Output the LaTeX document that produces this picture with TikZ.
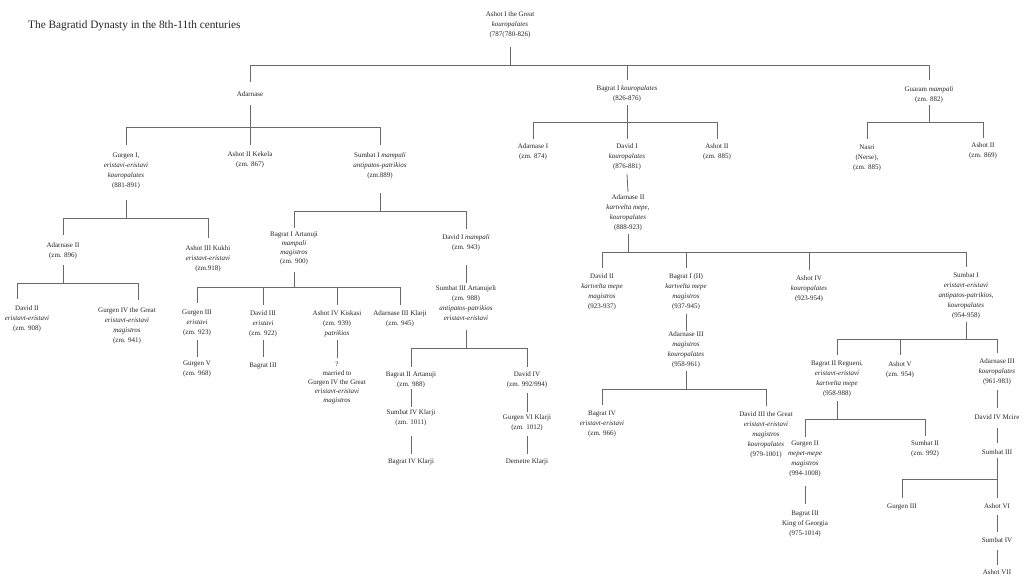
\documentclass[tikz,border=0pt]{standalone}
\usepackage{fontspec}
\setmainfont{Liberation Serif}
\definecolor{txt}{HTML}{262626}
\definecolor{lin}{HTML}{6A6A6A}
\tikzset{
  person/.style={font=\fontsize{7}{10}\selectfont, align=center, inner sep=0pt, anchor=north, text=txt},
  tight/.style={font=\fontsize{7}{9}\selectfont},
  ln/.style={draw=lin, line width=0.8pt},
}
\newcommand\pn[5][]{\node[person,#1] (#2) at (#3,#4-2.5) {#5};}
\newcommand\vl[4]{\draw[ln] (#1 |- 0,#2) -- (#3 |- 0,#4);}
\newcommand\fk[4]{%
  \draw[ln] (#1 |- 0,#2) -- (#1 |- 0,#3);
  \foreach \c/\b in {#4}{\draw[ln] (#1 |- 0,#3) -| (\c |- 0,\b);}%
}
\begin{document}
\begin{tikzpicture}[x=1pt,y=-1pt]
\useasboundingbox (0,0) rectangle (1024,576);
\fill[white] (0,0) rectangle (1024,576);
\node[anchor=base west, font=\fontsize{11.3}{13}\selectfont, inner sep=0pt, text=txt] (title) at (28,28) {The Bagratid Dynasty in the 8th-11th centuries};

\pn{root}{510}{14}{Ashot I the Great\\\textit{kouropalates}\\(787(780-826)}
\pn{adarnase}{250}{94}{Adarnase}
\pn{bagratI}{627}{88}{Bagrat I \textit{kouropalates}\\(826-876)}
\pn{guaram}{929}{89}{Guaram \textit{mampali}\\(zm. 882)}

\pn{gurgenI}{126}{155}{Gurgen I,\\\textit{eristavi-eristavi}\\\textit{kouropalates}\\(881-891)}
\pn{ashotIIK}{250}{154}{Ashot II Kekela\\(zm. 867)}
\pn{sumbatI}{380}{155}{Sumbat I \textit{mampali}\\\textit{antipatos-patrikios}\\(zm.889)}
\pn{adarnaseII}{63}{245}{Adarnase II\\(zm. 896)}
\pn{ashotIIIK}{208}{248}{Ashot III Kukhi\\\textit{eristavt-eristavi}\\(zm.918)}
\pn{davidII}{27}{308}{David II\\\textit{eristavt-eristavi}\\(zm. 908)}
\pn{gurgenIV}{127}{310}{Gurgen IV the Great\\\textit{eristavt-eristavi}\\\textit{magistros}\\(zm. 941)}
\coordinate (d2c) at (17,300);
\coordinate (g4c) at (138,300);
\pn[tight]{bagratIA}{294}{234}{Bagrat I Artanuji\\\textit{mampali}\\\textit{magistros}\\(zm. 900)}
\pn{davidIm}{466}{237}{David I \textit{mampali}\\(zm. 943)}
\pn{gurgenIII}{197}{312}{Gurgen III\\\textit{eristavi}\\(zm. 923)}
\pn{davidIII}{263}{313}{David III\\\textit{eristavi}\\(zm. 922)}
\pn{ashotIVK}{337}{313}{Ashot IV Kiskasi\\(zm. 939)\\\textit{patrikios}}
\pn{adarnaseIIIK}{400}{313}{Adarnase III Klarji\\(zm. 945)}
\pn{gurgenV}{197}{363}{Gurgen V\\(zm. 968)}
\pn{bagratIII}{263}{365}{Bagrat III}
\pn[tight]{married}{337}{364}{?\\married to\\Gurgen IV the Great\\\textit{eristavt-eristavi}\\\textit{magistros}}
\pn{sumbatIIIA}{466}{288}{Sumbat III Artanujeli\\(zm. 988)\\\textit{antipatos-patrikios}\\\textit{eristavt-eristavi}}
\pn{bagratIIA}{411}{374}{Bagrat II Artanuji\\(zm. 988)}
\pn{davidIV}{527}{374}{David IV\\(zm. 992/994)}
\pn{sumbatIVK}{411}{412}{Sumbat IV Klarji\\(zm. 1011)}
\pn{bagratIVK}{411}{461}{Bagrat IV Klarji}
\pn{gurgenVIK}{527}{417}{Gurgen VI Klarji\\(zm. 1012)}
\pn{demetre}{527}{461}{Demetre Klarji}

\pn{adarnaseI}{533}{146}{Adarnase I\\(zm. 874)}
\pn{davidI}{627}{146}{David I\\\textit{kouropalates}\\(876-881)}
\pn{ashotII}{717}{146}{Ashot II\\(zm. 885)}
\pn{nasri}{867}{147}{Nasri\\(Nerse),\\(zm. 885)}
\pn{ashotIIg}{983}{145}{Ashot II\\(zm. 869)}
\pn{adarnaseIIk}{628}{197}{Adarnase II\\\textit{kartvelta mepe},\\\textit{kouropalates}\\(888-923)}
\pn{davidIIk}{602}{276}{David II\\\textit{kartvelta mepe}\\\textit{magistros}\\(923-937)}
\pn{bagratIII2}{686}{276}{Bagrat I (II)\\\textit{kartvelta mepe}\\\textit{magistros}\\(937-945)}
\pn{ashotIV}{809}{278}{Ashot IV\\\textit{kouropalates}\\(923-954)}
\pn{sumbatIk}{966}{275}{Sumbat I\\\textit{eristavt-eristavi}\\\textit{antipatos-patrikios},\\\textit{kouropalates}\\(954-958)}
\pn{adarnaseIIIm}{686}{334}{Adarnase III\\\textit{magistros}\\\textit{kouropalates}\\(958-961)}
\pn{bagratIV}{602}{413}{Bagrat IV\\\textit{eristavt-eristavi}\\(zm. 966)}
\pn{davidIIIG}{766}{414}{David III the Great\\\textit{eristavt-eristavi}\\\textit{magistros}\\\textit{kouropalates}\\(979-1001)}
\pn{bagratIIR}{837}{363}{Bagrat II Regueni,\\\textit{eristavt-eristavi}\\\textit{kartvelta mepe}\\(958-988)}
\pn{ashotV}{900}{364}{Ashot V\\(zm. 954)}
\pn{adarnaseIIIk}{997}{361}{Adarnase III\\\textit{kouropalates}\\(961-983)}
\pn{gurgenII}{805}{443}{Gurgen II\\\textit{mepet-mepe}\\\textit{magistros}\\(994-1008)}
\pn{sumbatII}{925}{443}{Sumbat II\\(zm. 992)}
\pn{bagratIIIk}{805}{513}{Bagrat III\\King of Georgia\\(975-1014)}
\pn{davidIVM}{997}{417}{David IV Mcire}
\pn{sumbatIIIx}{997}{452}{Sumbat III}
\pn{gurgenIIIx}{902}{506}{Gurgen III}
\pn{ashotVI}{997}{506}{Ashot VI}
\pn{sumbatIVx}{997}{540}{Sumbat IV}
\pn{ashotVII}{997}{572}{Ashot VII}

% connectors
\fk{root}{47}{65}{adarnase/82,bagratI/80,guaram/80}
\fk{adarnase}{105}{127}{gurgenI/145,ashotIIK/145,sumbatI/145}
\fk{gurgenI}{200}{218}{adarnaseII/235,ashotIIIK/238}
\fk{adarnaseII}{265}{283}{d2c/299,g4c/300}
\fk{sumbatI}{193}{211}{bagratIA/228,davidIm/229}
\fk{bagratIA}{272}{287}{gurgenIII/303,davidIII/305,ashotIVK/305,adarnaseIIIK/305}
\vl{gurgenIII}{340}{gurgenV}{357}
\vl{davidIII}{340}{bagratIII}{357}
\vl{ashotIVK}{340}{married}{358}
\vl{davidIm}{265}{sumbatIIIA}{283}
\fk{sumbatIIIA}{330}{348}{bagratIIA/367,davidIV/367}
\vl{bagratIIA}{389}{sumbatIVK}{407}
\vl{sumbatIVK}{436}{bagratIVK}{454}
\vl{davidIV}{393}{gurgenVIK}{412}
\vl{gurgenVIK}{436}{demetre}{454}
\fk{bagratI}{105}{122}{adarnaseI/139,davidI/139,ashotII/139}
\fk{guaram}{105}{122}{nasri/139,ashotIIg/138}
\vl{davidI}{174}{adarnaseIIk}{192}
\fk{adarnaseIIk}{234}{252}{davidIIk/268,bagratIII2/268,ashotIV/270,sumbatIk/267}
\vl{bagratIII2}{314}{adarnaseIIIm}{331}
\fk{adarnaseIIIm}{371}{389}{bagratIV/405,davidIIIG/406}
\fk{sumbatIk}{322}{339}{bagratIIR/355,ashotV/355,adarnaseIIIk/353}
\fk{bagratIIR}{401}{419}{gurgenII/437,sumbatII/436}
\vl{gurgenII}{486}{bagratIIIk}{504}
\vl{adarnaseIIIk}{390}{davidIVM}{408}
\vl{davidIVM}{428}{sumbatIIIx}{443}
\fk{sumbatIIIx}{458}{479}{gurgenIIIx/498,ashotVI/498}
\vl{ashotVI}{515}{sumbatIVx}{532}
\vl{sumbatIVx}{550}{ashotVII}{565}
\end{tikzpicture}
\end{document}
